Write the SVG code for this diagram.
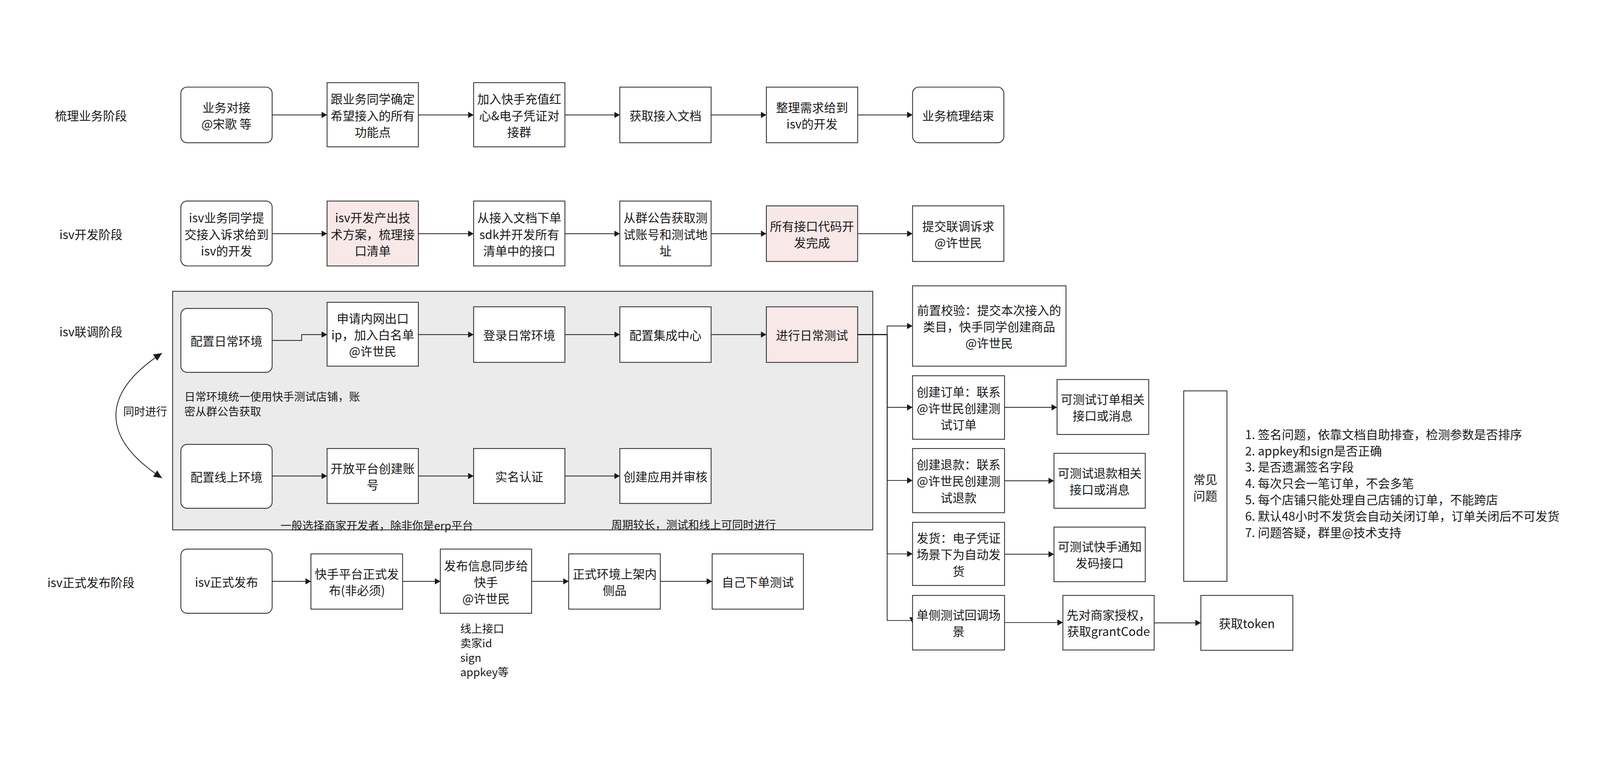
<svg xmlns="http://www.w3.org/2000/svg" width="4662" height="1966" viewBox="0 0 4662 1966">
<style>
svg{width:100vw;height:100vh}
.bg{fill:#ffffff}
.box{fill:#ffffff;stroke:#333333;stroke-width:2.5}
.pink{fill:#f9e8e8}
.cont{fill:#ebebeb;stroke:#333333;stroke-width:2.5}
.t{font-family:"Noto Sans CJK SC","Noto Sans",sans-serif;font-size:35px;fill:#1a1a1a;text-anchor:middle;dominant-baseline:central}
.f{font-family:"Noto Sans CJK SC","Noto Sans",sans-serif;font-size:32px;fill:#1a1a1a;dominant-baseline:central}
.n{font-family:"Noto Sans CJK SC","Noto Sans",sans-serif;font-size:35px;fill:#1a1a1a;dominant-baseline:central}
.e{fill:none;stroke:#1a1a1a;stroke-width:2.2;marker-end:url(#arr)}
.c{fill:none;stroke:#1a1a1a;stroke-width:2.2;marker-start:url(#arrL);marker-end:url(#arrL)}
</style>
<defs>
<marker id="arr" markerUnits="userSpaceOnUse" viewBox="0 0 16 18" refX="16" refY="9" markerWidth="16" markerHeight="18" orient="auto"><path d="M0,0 L16,9 L0,18 Z" fill="#1a1a1a"/></marker>
<marker id="arrL" markerUnits="userSpaceOnUse" viewBox="0 0 24 22" refX="24" refY="11" markerWidth="24" markerHeight="22" orient="auto-start-reverse"><path d="M0,0 L24,11 L0,22 Z" fill="#1a1a1a"/></marker>
</defs>
<rect class="bg" x="0" y="0" width="4662" height="1966"/>

<g id="labels">
<text class="t" x="265" y="199">梳理业务阶段</text>
<text class="t" x="265" y="545">isv开发阶段</text>
<text class="t" x="265" y="829">isv联调阶段</text>
<text class="t" x="265" y="1560">isv正式发布阶段</text>
</g>

<g id="container">
<rect class="cont" x="503" y="713" width="2040" height="695"/>
<text class="f" x="537" y="1018">日常环境统一使用快手测试店铺，账</text>
<text class="f" x="537" y="1061">密从群公告获取</text>
<text class="f" x="817" y="1393">一般选择商家开发者，除非你是erp平台</text>
<text class="f" x="1781" y="1391">周期较长，测试和线上可同时进行</text>
</g>

<g id="connectors">
<path class="e" d="M793,199 H953"/>
<path class="e" d="M1219,199 H1380"/>
<path class="e" d="M1646,199 H1806"/>
<path class="e" d="M2072,199 H2233"/>
<path class="e" d="M2499,199 H2659"/>
<path class="e" d="M793,545 H953"/>
<path class="e" d="M1219,545 H1380"/>
<path class="e" d="M1646,545 H1806"/>
<path class="e" d="M2072,545 H2233"/>
<path class="e" d="M2499,545 H2659"/>
<path class="e" d="M793,856 H879 V839 H953"/>
<path class="e" d="M1219,839 H1380"/>
<path class="e" d="M1646,839 H1806"/>
<path class="e" d="M2072,839 H2233"/>
<path class="e" d="M793,1251 H953"/>
<path class="e" d="M1219,1251 H1380"/>
<path class="e" d="M1646,1251 H1806"/>
<path class="e" d="M2499,839 H2585 V814 H2659"/>
<path class="e" d="M2499,839 H2585 V1051 H2659"/>
<path class="e" d="M2499,839 H2585 V1264 H2659"/>
<path class="e" d="M2499,839 H2585 V1478 H2659"/>
<path class="e" d="M2499,839 H2585 V1672 H2658 V1678"/>
<path class="e" d="M2927,1051 H3080"/>
<path class="e" d="M2927,1265 H3071"/>
<path class="e" d="M2927,1479 H3071"/>
<path class="e" d="M2927,1678 H3097"/>
<path class="e" d="M3363,1679 H3499"/>
<path class="e" d="M793,1558 H906"/>
<path class="e" d="M1173,1558 H1283"/>
<path class="e" d="M1549,1558 H1657"/>
<path class="e" d="M1924,1558 H2075"/>
<path class="c" d="M472,893 C293,1010 293,1140 472,1257"/>
</g>

<g id="n1_1"><rect class="box" x="527" y="118" width="266" height="162" rx="18"/><text class="t" x="660" y="175">业务对接</text><text class="t" x="660" y="223">@宋歌 等</text></g>
<g id="n1_2"><rect class="box" x="953" y="105" width="266" height="187"/><text class="t" x="1086" y="151">跟业务同学确定</text><text class="t" x="1086" y="199">希望接入的所有</text><text class="t" x="1086" y="247">功能点</text></g>
<g id="n1_3"><rect class="box" x="1380" y="105" width="266" height="187"/><text class="t" x="1513" y="151">加入快手充值红</text><text class="t" x="1513" y="199">心&amp;电子凭证对</text><text class="t" x="1513" y="247">接群</text></g>
<g id="n1_4"><rect class="box" x="1806" y="118" width="266" height="162"/><text class="t" x="1939" y="199">获取接入文档</text></g>
<g id="n1_5"><rect class="box" x="2233" y="118" width="266" height="162"/><text class="t" x="2366" y="175">整理需求给到</text><text class="t" x="2366" y="223">isv的开发</text></g>
<g id="n1_6"><rect class="box" x="2659" y="118" width="266" height="162" rx="18"/><text class="t" x="2792" y="199">业务梳理结束</text></g>

<g id="n2_1"><rect class="box" x="527" y="450" width="266" height="189" rx="18"/><text class="t" x="660" y="497">isv业务同学提</text><text class="t" x="660" y="545">交接入诉求给到</text><text class="t" x="660" y="593">isv的开发</text></g>
<g id="n2_2"><rect class="box pink" x="953" y="450" width="266" height="189"/><text class="t" x="1086" y="497">isv开发产出技</text><text class="t" x="1086" y="545">术方案，梳理接</text><text class="t" x="1086" y="593">口清单</text></g>
<g id="n2_3"><rect class="box" x="1380" y="450" width="266" height="189"/><text class="t" x="1513" y="497">从接入文档下单</text><text class="t" x="1513" y="545">sdk并开发所有</text><text class="t" x="1513" y="593">清单中的接口</text></g>
<g id="n2_4"><rect class="box" x="1806" y="450" width="266" height="189"/><text class="t" x="1939" y="497">从群公告获取测</text><text class="t" x="1939" y="545">试账号和测试地</text><text class="t" x="1939" y="593">址</text></g>
<g id="n2_5"><rect class="box pink" x="2233" y="464" width="266" height="162"/><text class="t" x="2366" y="521">所有接口代码开</text><text class="t" x="2366" y="569">发完成</text></g>
<g id="n2_6"><rect class="box" x="2659" y="464" width="266" height="162"/><text class="t" x="2792" y="521">提交联调诉求</text><text class="t" x="2792" y="569">@许世民</text></g>

<g id="n3_1"><rect class="box" x="527" y="763" width="266" height="186" rx="18"/><text class="t" x="660" y="856">配置日常环境</text></g>
<g id="n3_2"><rect class="box" x="953" y="745" width="266" height="186"/><text class="t" x="1086" y="790">申请内网出口</text><text class="t" x="1086" y="838">ip，加入白名单</text><text class="t" x="1086" y="886">@许世民</text></g>
<g id="n3_3"><rect class="box" x="1380" y="758" width="266" height="162"/><text class="t" x="1513" y="839">登录日常环境</text></g>
<g id="n3_4"><rect class="box" x="1806" y="758" width="266" height="162"/><text class="t" x="1939" y="839">配置集成中心</text></g>
<g id="n3_5"><rect class="box pink" x="2233" y="758" width="266" height="162"/><text class="t" x="2366" y="839">进行日常测试</text></g>
<g id="n3_6"><rect class="box" x="527" y="1159" width="266" height="186" rx="18"/><text class="t" x="660" y="1252">配置线上环境</text></g>
<g id="n3_7"><rect class="box" x="953" y="1171" width="266" height="160"/><text class="t" x="1086" y="1227">开放平台创建账</text><text class="t" x="1086" y="1275">号</text></g>
<g id="n3_8"><rect class="box" x="1380" y="1171" width="266" height="160"/><text class="t" x="1513" y="1251">实名认证</text></g>
<g id="n3_9"><rect class="box" x="1806" y="1171" width="266" height="160"/><text class="t" x="1939" y="1251">创建应用并审核</text></g>

<g id="sync_label"><text class="f" x="423" y="1061" text-anchor="middle">同时进行</text></g>

<g id="r1"><rect class="box" x="2659" y="697" width="447" height="234"/><text class="t" x="2882" y="766">前置校验：提交本次接入的</text><text class="t" x="2882" y="814">类目，快手同学创建商品</text><text class="t" x="2882" y="862">@许世民</text></g>
<g id="r2"><rect class="box" x="2659" y="959" width="268" height="185"/><text class="t" x="2793" y="1004">创建订单：联系</text><text class="t" x="2793" y="1052">@许世民创建测</text><text class="t" x="2793" y="1100">试订单</text></g>
<g id="r2b"><rect class="box" x="3080" y="970" width="267" height="160"/><text class="t" x="3213" y="1026">可测试订单相关</text><text class="t" x="3213" y="1074">接口或消息</text></g>
<g id="r3"><rect class="box" x="2659" y="1171" width="268" height="187"/><text class="t" x="2793" y="1216">创建退款：联系</text><text class="t" x="2793" y="1264">@许世民创建测</text><text class="t" x="2793" y="1312">试退款</text></g>
<g id="r3b"><rect class="box" x="3071" y="1185" width="266" height="160"/><text class="t" x="3204" y="1241">可测试退款相关</text><text class="t" x="3204" y="1289">接口或消息</text></g>
<g id="r4"><rect class="box" x="2659" y="1386" width="268" height="184"/><text class="t" x="2793" y="1430">发货：电子凭证</text><text class="t" x="2793" y="1478">场景下为自动发</text><text class="t" x="2793" y="1526">货</text></g>
<g id="r4b"><rect class="box" x="3071" y="1400" width="266" height="159"/><text class="t" x="3204" y="1455">可测试快手通知</text><text class="t" x="3204" y="1503">发码接口</text></g>
<g id="r5"><rect class="box" x="2659" y="1599" width="268" height="159"/><text class="t" x="2793" y="1654">单侧测试回调场</text><text class="t" x="2793" y="1702">景</text></g>
<g id="r5b"><rect class="box" x="3097" y="1599" width="266" height="159"/><text class="t" x="3230" y="1654">先对商家授权，</text><text class="t" x="3230" y="1702">获取grantCode</text></g>
<g id="r5c"><rect class="box" x="3499" y="1599" width="268" height="160"/><text class="t" x="3633" y="1679">获取token</text></g>
<g id="faq"><rect class="box" x="3449" y="1003" width="126" height="555"/><text class="t" x="3512" y="1259">常见</text><text class="t" x="3512" y="1307">问题</text></g>
<g id="faq_list">
<text class="n" x="3628" y="1128">1. 签名问题，依靠文档自助排查，检测参数是否排序</text>
<text class="n" x="3628" y="1176">2. appkey和sign是否正确</text>
<text class="n" x="3628" y="1223">3. 是否遗漏签名字段</text>
<text class="n" x="3628" y="1270">4. 每次只会一笔订单，不会多笔</text>
<text class="n" x="3628" y="1318">5. 每个店铺只能处理自己店铺的订单，不能跨店</text>
<text class="n" x="3628" y="1366">6. 默认48小时不发货会自动关闭订单，订单关闭后不可发货</text>
<text class="n" x="3628" y="1414">7. 问题答疑，群里@技术支持</text>
</g>

<g id="b1"><rect class="box" x="527" y="1464" width="266" height="187" rx="18"/><text class="t" x="660" y="1558">isv正式发布</text></g>
<g id="b2"><rect class="box" x="906" y="1478" width="267" height="161"/><text class="t" x="1040" y="1534">快手平台正式发</text><text class="t" x="1040" y="1582">布(非必须)</text></g>
<g id="b3"><rect class="box" x="1283" y="1464" width="266" height="187"/><text class="t" x="1416" y="1510">发布信息同步给</text><text class="t" x="1416" y="1558">快手</text><text class="t" x="1416" y="1606">@许世民</text></g>
<g id="b4"><rect class="box" x="1657" y="1478" width="267" height="161"/><text class="t" x="1791" y="1534">正式环境上架内</text><text class="t" x="1791" y="1582">侧品</text></g>
<g id="b5"><rect class="box" x="2075" y="1478" width="266" height="161"/><text class="t" x="2208" y="1558">自己下单测试</text></g>
<g id="b3_note">
<text class="f" x="1341" y="1694">线上接口</text>
<text class="f" x="1341" y="1736">卖家id</text>
<text class="f" x="1341" y="1778">sign</text>
<text class="f" x="1341" y="1820">appkey等</text>
</g>
</svg>
